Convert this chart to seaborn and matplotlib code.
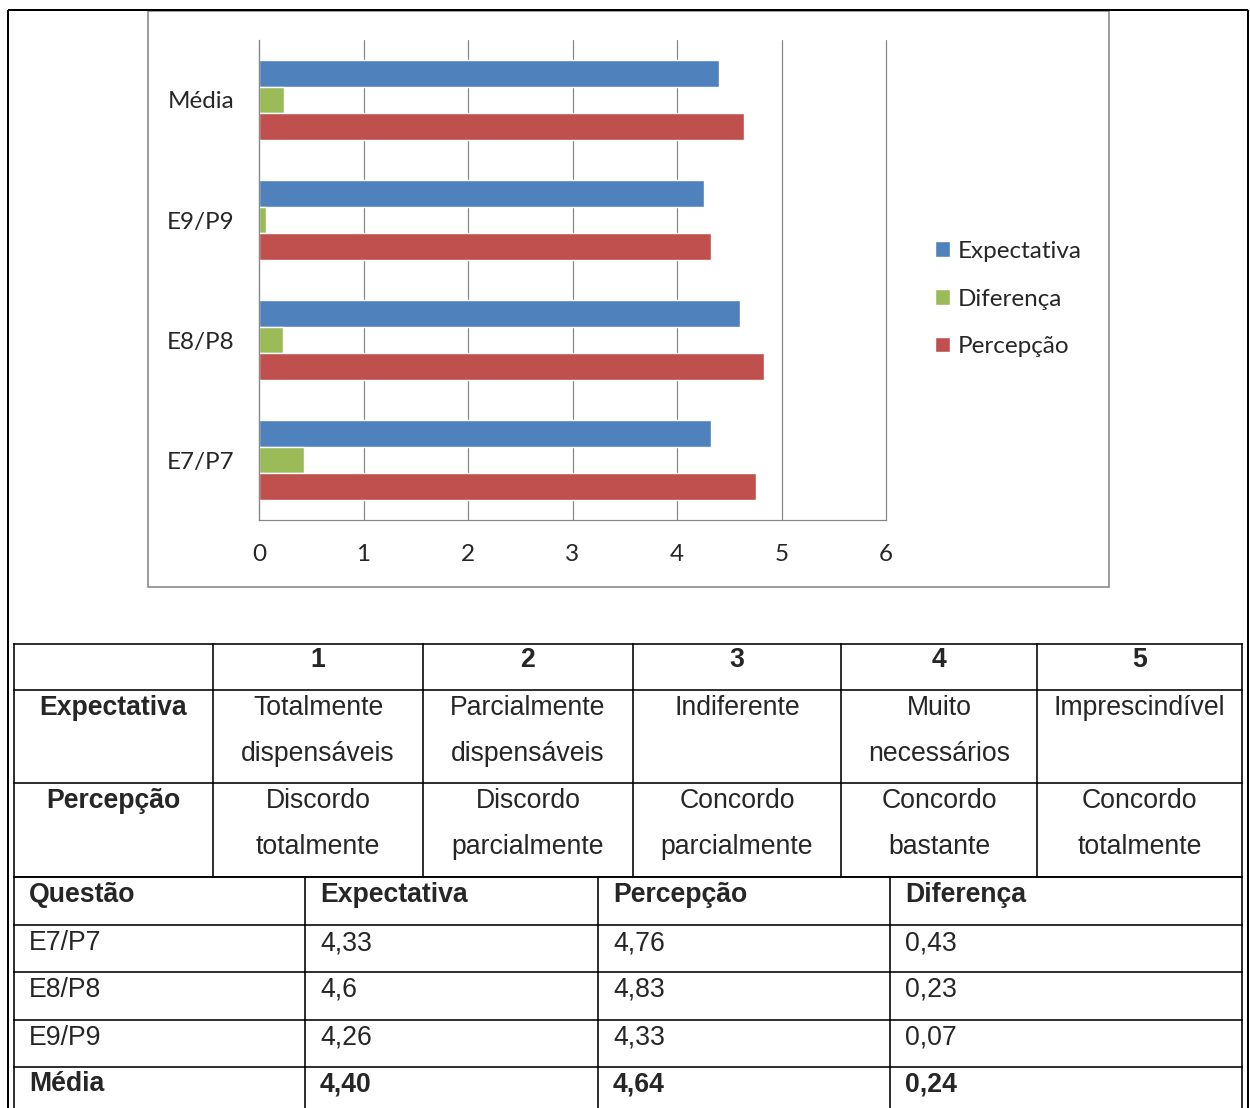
import matplotlib
matplotlib.use("Agg")
import matplotlib.pyplot as plt
import pandas as pd
import seaborn as sns

# ---- dados ----
questoes = ["E7/P7", "E8/P8", "E9/P9", "Média"]
expectativa = [4.33, 4.60, 4.26, 4.40]
diferenca = [0.43, 0.23, 0.07, 0.24]
percepcao = [4.76, 4.83, 4.33, 4.64]
series = ["Expectativa", "Diferença", "Percepção"]
cores = ["#4F81BD", "#9BBB59", "#C0504D"]
ticks_x = [0, 1, 2, 3, 4, 5, 6]

escala = ["1", "2", "3", "4", "5"]
escala_expectativa = [["Totalmente", "dispensáveis"], ["Parcialmente", "dispensáveis"],
                      ["Indiferente"], ["Muito", "necessários"], ["Imprescindível"]]
escala_percepcao = [["Discordo", "totalmente"], ["Discordo", "parcialmente"],
                    ["Concordo", "parcialmente"], ["Concordo", "bastante"],
                    ["Concordo", "totalmente"]]

cabecalho = ["Questão", "Expectativa", "Percepção", "Diferença"]
texto_expectativa = ["4,33", "4,6", "4,26", "4,40"]
texto_percepcao = ["4,76", "4,83", "4,33", "4,64"]
texto_diferenca = ["0,43", "0,23", "0,07", "0,24"]

# ---- figura ----
W, H = 1250, 1108
sns.set_style("white")
plt.rcParams["font.family"] = ["Liberation Sans", "DejaVu Sans"]
fig = plt.figure(figsize=(W / 100, H / 100), dpi=100)

px = 0.72  # pontos por pixel

# camada de fundo em coordenadas de pixel
bg = fig.add_axes([0, 0, 1, 1], zorder=0)
bg.set_xlim(0, W)
bg.set_ylim(H, 0)
bg.axis("off")

# moldura externa
bg.plot([8, 8], [10, H], color="black", lw=2 * px, solid_capstyle="butt")
bg.plot([8, 1248], [10, 10], color="black", lw=2 * px, solid_capstyle="butt")
bg.plot([1248, 1248], [10, H], color="black", lw=2 * px, solid_capstyle="butt")

# moldura do gráfico
bg.add_patch(plt.Rectangle((148, 11), 961, 576, fill=False,
                           edgecolor="#868686", lw=1.6 * px))

# ---- gráfico de barras ----
ax = fig.add_axes([259 / W, 1 - 520 / H, 627 / W, 480 / H], zorder=1)
ax.patch.set_alpha(0)

df = pd.DataFrame({
    "Questão": questoes * 3,
    "Série": [s for s in series for _ in questoes],
    "Valor": expectativa + diferenca + percepcao,
})
sns.barplot(data=df, y="Questão", x="Valor", hue="Série",
            order=questoes[::-1], hue_order=series, palette=cores,
            orient="h", width=0.667, saturation=1, ax=ax, legend=True)

ax.set_xlim(0, 6)
ax.set_ylim(3.5, -0.5)
ax.set_xlabel("")
ax.set_ylabel("")
ax.set_axisbelow(True)
ax.grid(axis="x", color="#868686", lw=1.2 * px)
ax.grid(axis="y", visible=False)
for s in ["top", "right"]:
    ax.spines[s].set_visible(False)
for s in ["left", "bottom"]:
    ax.spines[s].set_color("#868686")
    ax.spines[s].set_linewidth(1.2 * px)

chart_font = ["Lato", "DejaVu Sans"]
cfs = 17.5
ax.set_xticks(ticks_x)
ax.set_xticklabels([str(t) for t in ticks_x], fontsize=cfs, family=chart_font)
ax.tick_params(axis="x", length=6 * px, width=1.2 * px, color="#868686", pad=13)
for gl in ax.get_xgridlines():
    gl.set_clip_on(False)

ax.set_yticks([-0.5, 0.5, 1.5, 2.5, 3.5])
ax.set_yticklabels([])
ax.set_yticks(range(len(questoes)), minor=True)
ax.set_yticklabels(questoes[::-1], minor=True, fontsize=cfs, family=chart_font)
ax.tick_params(axis="y", which="major", length=6 * px, width=1.2 * px, color="#868686")
ax.tick_params(axis="y", which="minor", length=0, pad=18)

handles, labels = ax.get_legend_handles_labels()
ax.get_legend().remove()
fig.legend(handles, labels, loc="center left",
           bbox_to_anchor=(935 / W, 1 - 299 / H), bbox_transform=fig.transFigure,
           frameon=False, borderpad=0, borderaxespad=0,
           handlelength=0.6, handleheight=0.6, handletextpad=0.35,
           labelspacing=1.1, prop={"family": chart_font, "size": cfs})

# ---- tabela da escala ----
lw_t = 1.6 * px
fs = 19.2
cols1 = [14, 213, 423, 633, 841, 1037, 1242]
rows1 = [644, 690, 783, 877]
for y in rows1:
    bg.plot([cols1[0], cols1[-1]], [y, y], color="black", lw=lw_t, solid_capstyle="projecting")
for x in cols1:
    bg.plot([x, x], [rows1[0], rows1[-1]], color="black", lw=lw_t, solid_capstyle="projecting")

centros1 = [(cols1[i] + cols1[i + 1]) / 2 for i in range(len(cols1) - 1)]
for c, n in zip(centros1[1:], escala):
    bg.text(c, 667, n, ha="center", va="baseline", fontsize=fs, fontweight="bold")
bg.text(centros1[0], 715, "Expectativa", ha="center", va="baseline", fontsize=fs, fontweight="bold")
bg.text(centros1[0], 808, "Percepção", ha="center", va="baseline", fontsize=fs, fontweight="bold")
for c, linhas in zip(centros1[1:], escala_expectativa):
    for k, t in enumerate(linhas):
        bg.text(c, 715 + 46 * k, t, ha="center", va="baseline", fontsize=fs)
for c, linhas in zip(centros1[1:], escala_percepcao):
    for k, t in enumerate(linhas):
        bg.text(c, 808 + 46 * k, t, ha="center", va="baseline", fontsize=fs)

# ---- tabela de resultados ----
cols2 = [14, 305, 598, 890, 1242]
rows2 = [877, 925, 972, 1020, 1067]
for y in rows2:
    bg.plot([cols2[0], cols2[-1]], [y, y], color="black", lw=lw_t, solid_capstyle="projecting")
for x in cols2:
    bg.plot([x, x], [rows2[0], H], color="black", lw=lw_t, solid_capstyle="butt")

linhas_tab = [cabecalho] + [
    [q, e, p, d] for q, e, p, d in zip(questoes, texto_expectativa, texto_percepcao, texto_diferenca)
]
bases = [902, 950, 997, 1045, 1091]
for i, (linha, yb) in enumerate(zip(linhas_tab, bases)):
    negrito = i == 0 or i == len(linhas_tab) - 1
    for x, t in zip(cols2[:-1], linha):
        bg.text(x + 15, yb, t, ha="left", va="baseline", fontsize=fs,
                fontweight="bold" if negrito else "normal")

fig.savefig("out.png", dpi=100, facecolor="white")
